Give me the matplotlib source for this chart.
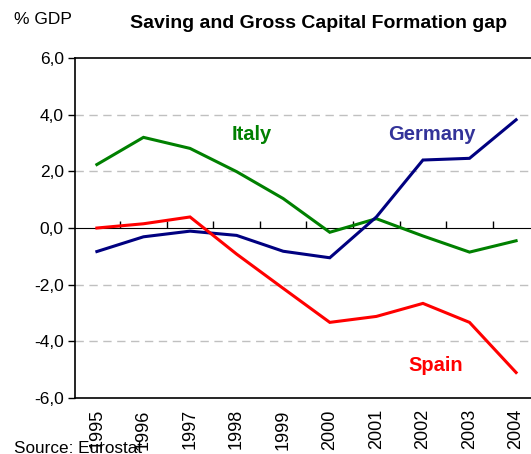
import matplotlib.pyplot as plt

plt.rcParams['font.family'] = ['Liberation Sans', 'DejaVu Sans']

years = [1995, 1996, 1997, 1998, 1999, 2000, 2001, 2002, 2003, 2004]
italy = [2.24, 3.2, 2.81, 1.99, 1.04, -0.15, 0.33, -0.28, -0.85, -0.45]
germany = [-0.83, -0.31, -0.11, -0.26, -0.82, -1.05, 0.39, 2.4, 2.46, 3.82]
spain = [0.0, 0.15, 0.39, -0.92, -2.13, -3.33, -3.12, -2.66, -3.33, -5.1]
yticks = [-6, -4, -2, 0, 2, 4, 6]

fig = plt.figure(figsize=(5.31, 4.54), dpi=100)
ax = fig.add_axes([0.1412, 0.1233, 0.8588, 0.7489])

x = list(range(len(years)))
ax.plot(x, italy, color='#008000', lw=2.2, solid_joinstyle='miter')
ax.plot(x, germany, color='#000080', lw=2.2, solid_joinstyle='miter')
ax.plot(x, spain, color='#FF0000', lw=2.2, solid_joinstyle='miter')

ax.set_xlim(-0.47, len(years) - 1 + 0.32)
ax.set_ylim(-6, 6)
ax.set_yticks(yticks)
ax.set_yticklabels([f'{v:.1f}'.replace('.', ',') for v in yticks], fontsize=12.5)
ax.tick_params(axis='y', direction='out', length=5, width=1, pad=3)

for v in yticks:
    if v not in (-6, 0, 6):
        ax.axhline(v, color='#c0c0c0', lw=1, ls=(0, (6, 4)), zorder=0)

ax.set_xticks(x)
ax.set_xticklabels([str(y) for y in years], rotation=90, fontsize=13)
ax.tick_params(axis='x', length=0, pad=8)

# zero line with category separator ticks
sec = ax.secondary_xaxis(0.5)
sec.set_xticks([i + 0.5 for i in x[:-1]])
sec.set_xticklabels([])
sec.tick_params(axis='x', direction='out', length=5, width=1)
sec.spines['bottom'].set_linewidth(1.2)

for s in ['top', 'left', 'bottom']:
    ax.spines[s].set_linewidth(1.2)
ax.spines['right'].set_visible(False)

ax.text(3.33, 3.3, 'Italy', color='#008000', fontsize=14.5, fontweight='bold', ha='center', va='center')
ax.text(7.2, 3.3, 'Germany', color='#333399', fontsize=14.5, fontweight='bold', ha='center', va='center')
ax.text(7.27, -4.86, 'Spain', color='#FF0000', fontsize=14.5, fontweight='bold', ha='center', va='center')

fig.text(14 / 531, 1 - 20 / 454, '% GDP', fontsize=12.5, va='center', ha='left')
fig.text(318 / 531, 1 - 24 / 454, 'Saving and Gross Capital Formation gap', fontsize=14,
         fontweight='bold', va='center', ha='center')
fig.text(14 / 531, 1 - 453 / 454, 'Source: Eurostat', fontsize=12.3, va='baseline', ha='left')

fig.savefig('out.png', dpi=100)
